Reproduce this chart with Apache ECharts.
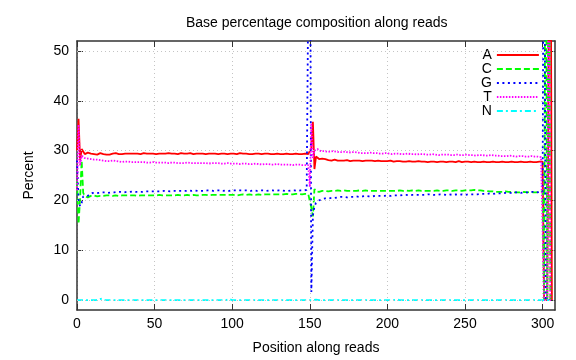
<!DOCTYPE html>
<html>
<head>
<meta charset="utf-8">
<script src="https://cdn.jsdelivr.net/npm/echarts@6/dist/echarts.min.js"></script>
<style>html,body{margin:0;padding:0;background:#fff}#c{width:576px;height:360px}</style>
</head>
<body>
<div id="c"></div>
<script>
var titleText = "Base percentage composition along reads";
var xName = "Position along reads";
var yName = "Percent";
var seriesNames = ["A", "C", "G", "T", "N"];
var xTicks = [0, 50, 100, 150, 200, 250, 300];
var yTicks = [0, 10, 20, 30, 40, 50];

var A = [
30.0,36.4,28.0,30.3,29.9,29.3,29.7,29.6,29.2,29.4,
29.5,29.3,29.4,29.2,29.3,29.5,29.4,29.3,29.4,29.2,
29.1,29.2,29.3,29.4,29.3,29.5,29.4,29.3,29.2,29.3,
29.4,29.4,29.5,29.4,29.3,29.4,29.5,29.4,29.3,29.4,
29.4,29.3,29.4,29.5,29.4,29.4,29.3,29.4,29.5,29.4,
29.4,29.3,29.4,29.4,29.5,29.4,29.3,29.4,29.4,29.5,
29.4,29.4,29.3,29.4,29.4,29.3,29.4,29.5,29.4,29.4,
29.3,29.4,29.4,29.5,29.4,29.3,29.4,29.4,29.3,29.4,
29.5,29.4,29.4,29.3,29.4,29.4,29.5,29.4,29.3,29.4,
29.4,29.3,29.4,29.4,29.5,29.4,29.4,29.3,29.4,29.4,
29.3,29.4,29.4,29.3,29.4,29.5,29.4,29.4,29.3,29.4,
29.4,29.3,29.4,29.3,29.4,29.4,29.3,29.4,29.4,29.3,
29.3,29.4,29.3,29.4,29.4,29.3,29.4,29.3,29.3,29.4,
29.3,29.3,29.4,29.3,29.3,29.4,29.3,29.3,29.4,29.3,
29.3,29.4,29.3,29.3,29.4,29.3,29.3,29.4,29.3,29.3,
29.2,30.5,35.8,26.3,28.8,28.9,28.3,28.6,28.4,28.2,
28.3,28.2,28.1,28.2,28.0,28.1,28.2,28.1,28.0,28.1,
28.0,28.1,28.0,28.0,28.1,28.0,27.9,28.0,28.0,28.1,
28.0,27.9,28.0,28.0,27.9,28.0,28.0,27.9,28.0,27.9,
28.0,28.0,27.9,27.9,28.0,27.9,27.9,28.0,27.9,27.9,
27.9,27.9,28.0,27.9,27.8,27.9,27.9,27.8,27.9,27.9,
27.8,27.9,27.8,27.9,27.9,27.8,27.8,27.9,27.8,27.8,
27.9,27.8,27.8,27.9,27.8,27.8,27.7,27.8,27.8,27.9,
27.8,27.8,27.7,27.8,27.8,27.7,27.8,27.8,27.7,27.8,
27.8,27.7,27.8,27.8,27.7,27.8,27.9,27.8,27.7,27.8,
27.8,27.7,27.8,27.8,27.7,27.7,27.8,27.8,27.7,27.8,
27.7,27.7,27.8,27.7,27.7,27.8,27.7,27.7,27.8,27.7,
27.7,27.8,27.7,27.7,27.8,27.7,27.7,27.8,27.7,27.7,
27.8,27.7,27.7,27.8,27.7,27.7,27.8,27.7,27.7,27.8,
27.7,27.7,27.8,27.7,27.7,27.8,27.7,27.7,27.8,27.7,
27.8,0,0,0,0,100,0
];
var C = [
24.0,15.3,20.5,28.0,21.5,20.9,20.7,20.6,20.8,20.9,
21.0,21.0,20.9,20.8,20.8,20.9,21.0,20.9,21.0,21.0,
20.9,21.0,21.0,20.9,21.0,21.0,21.0,20.9,21.0,21.0,
21.0,21.0,21.0,21.0,20.9,21.0,21.0,21.0,21.0,20.9,
21.0,21.0,21.0,21.0,21.0,21.0,20.9,21.0,21.0,21.0,
21.0,21.0,21.0,21.1,21.0,21.0,21.0,21.0,21.1,21.0,
21.0,21.0,21.1,21.0,21.0,21.1,21.0,21.0,21.1,21.0,
21.0,21.1,21.0,21.0,21.1,21.1,21.0,21.0,21.1,21.0,
21.1,21.1,21.0,21.1,21.1,21.0,21.1,21.1,21.0,21.1,
21.1,21.1,21.0,21.1,21.1,21.1,21.0,21.1,21.1,21.1,
21.1,21.1,21.1,21.0,21.1,21.1,21.1,21.2,21.1,21.1,
21.1,21.2,21.1,21.1,21.2,21.1,21.1,21.2,21.2,21.1,
21.2,21.2,21.1,21.2,21.2,21.2,21.1,21.2,21.2,21.2,
21.2,21.2,21.3,21.2,21.2,21.3,21.2,21.2,21.3,21.2,
21.3,21.3,21.2,21.3,21.3,21.2,21.3,21.3,21.3,21.3,
21.2,18.5,16.8,22.3,21.8,22.0,21.7,21.8,21.9,21.8,
21.9,21.9,21.8,21.9,21.9,21.8,21.9,21.9,22.0,21.9,
21.9,21.9,22.0,21.9,21.9,22.0,21.9,21.9,21.9,22.0,
21.9,21.9,22.0,21.9,21.9,21.9,22.0,21.9,21.9,22.0,
21.9,21.9,21.9,22.0,21.9,21.9,21.9,22.0,21.9,21.9,
21.9,22.0,21.9,21.9,21.9,22.0,21.9,21.9,22.0,21.9,
21.9,21.9,22.0,21.9,21.9,21.9,22.0,21.9,21.9,21.9,
22.0,21.9,21.9,22.0,21.9,21.9,21.9,22.0,21.9,22.0,
21.9,21.9,22.0,21.9,21.9,22.0,21.9,21.9,22.0,21.9,
22.0,22.0,21.9,22.0,22.0,21.9,22.0,22.0,21.9,22.0,
22.0,22.1,22.0,22.1,22.0,22.0,22.1,22.0,22.0,21.9,
22.0,21.9,21.9,21.8,21.9,21.8,21.8,21.9,21.8,21.8,
21.7,21.8,21.7,21.8,21.7,21.7,21.8,21.7,21.7,21.6,
21.7,21.7,21.6,21.7,21.6,21.7,21.6,21.6,21.7,21.6,
21.6,21.6,21.7,21.6,21.6,21.6,21.6,21.7,21.7,21.7,
21.8,0,100,0,100,0,0
];
var G = [
28.0,20.0,18.8,19.5,20.8,21.1,20.9,20.7,21.0,21.3,
21.5,21.5,21.4,21.6,21.5,21.5,21.6,21.5,21.6,21.6,
21.5,21.6,21.6,21.7,21.6,21.6,21.7,21.6,21.7,21.7,
21.6,21.7,21.7,21.6,21.7,21.7,21.8,21.7,21.7,21.8,
21.7,21.8,21.7,21.8,21.8,21.7,21.8,21.8,21.8,21.7,
21.8,21.8,21.8,21.9,21.8,21.8,21.9,21.8,21.9,21.9,
21.8,21.9,21.9,21.8,21.9,21.9,21.9,21.8,21.9,21.9,
21.9,21.9,22.0,21.9,21.9,21.9,22.0,21.9,21.9,22.0,
21.9,22.0,21.9,21.9,22.0,21.9,22.0,22.0,21.9,22.0,
22.0,21.9,22.0,22.0,21.9,22.0,22.0,22.0,21.9,22.0,
22.0,22.0,22.0,21.9,22.0,22.0,22.0,21.9,22.0,22.0,
22.0,22.0,21.9,22.0,22.0,22.0,21.9,22.0,22.0,21.9,
22.0,22.0,21.9,22.0,22.0,21.9,22.0,22.0,21.9,22.0,
22.0,21.9,22.0,22.0,21.9,22.0,21.9,22.0,22.0,21.9,
22.0,22.0,21.9,22.0,22.0,22.1,22.0,22.0,22.1,22.1,
100,1.6,17.0,18.8,19.5,19.8,20.0,20.2,20.3,20.3,
20.4,20.5,20.4,20.5,20.5,20.6,20.5,20.6,20.6,20.6,
20.7,20.6,20.7,20.7,20.6,20.7,20.7,20.8,20.7,20.7,
20.8,20.8,20.7,20.8,20.8,20.8,20.9,20.8,20.8,20.9,
20.8,20.9,20.9,20.8,20.9,20.9,20.9,21.0,20.9,20.9,
21.0,21.0,20.9,21.0,21.0,21.0,21.0,21.1,21.0,21.0,
21.1,21.0,21.1,21.1,21.0,21.1,21.1,21.1,21.1,21.0,
21.1,21.1,21.1,21.2,21.1,21.1,21.2,21.1,21.2,21.1,
21.1,21.2,21.1,21.2,21.2,21.1,21.2,21.2,21.1,21.2,
21.2,21.2,21.1,21.2,21.2,21.2,21.1,21.2,21.2,21.2,
21.1,21.1,21.2,21.1,21.2,21.2,21.2,21.3,21.2,21.2,
21.3,21.3,21.3,21.4,21.3,21.3,21.4,21.4,21.3,21.4,
21.4,21.4,21.4,21.5,21.4,21.5,21.5,21.4,21.5,21.5,
21.5,21.5,21.6,21.5,21.6,21.6,21.5,21.6,21.6,21.6,
21.6,21.6,21.7,21.6,21.7,21.7,21.6,21.7,21.7,21.7,
21.7,100,0,0,0,0,0
];
var T = [
22.0,35.2,27.0,29.0,28.6,28.5,28.3,28.4,28.2,28.3,
28.2,28.2,28.1,28.2,28.0,28.1,28.1,28.0,28.0,27.9,
28.0,27.9,27.9,28.0,27.8,27.9,27.8,27.8,27.9,27.7,
27.8,27.8,27.7,27.8,27.7,27.7,27.8,27.7,27.6,27.7,
27.7,27.7,27.6,27.7,27.7,27.6,27.7,27.6,27.6,27.7,
27.6,27.6,27.7,27.6,27.6,27.6,27.7,27.6,27.6,27.5,
27.6,27.6,27.5,27.6,27.6,27.5,27.6,27.5,27.6,27.5,
27.5,27.6,27.5,27.5,27.6,27.5,27.5,27.5,27.6,27.5,
27.5,27.5,27.4,27.5,27.5,27.4,27.5,27.5,27.4,27.5,
27.4,27.5,27.4,27.4,27.5,27.4,27.4,27.5,27.4,27.4,
27.4,27.4,27.3,27.4,27.4,27.3,27.4,27.4,27.3,27.4,
27.3,27.3,27.4,27.3,27.3,27.4,27.3,27.3,27.3,27.2,
27.3,27.3,27.2,27.3,27.3,27.2,27.3,27.2,27.2,27.3,
27.2,27.2,27.3,27.2,27.2,27.2,27.3,27.2,27.2,27.1,
27.2,27.2,27.1,27.2,27.2,27.1,27.2,27.1,27.2,27.1,
22.7,35.5,28.5,30.0,29.8,30.3,30.0,29.9,30.1,29.9,
29.9,29.8,29.9,29.8,29.8,29.9,29.7,29.8,29.8,29.7,
29.8,29.7,29.7,29.8,29.7,29.6,29.7,29.7,29.6,29.7,
29.6,29.6,29.6,29.5,29.6,29.5,29.6,29.5,29.5,29.6,
29.5,29.5,29.4,29.5,29.5,29.4,29.5,29.4,29.4,29.5,
29.4,29.4,29.4,29.3,29.4,29.4,29.3,29.4,29.3,29.3,
29.4,29.3,29.3,29.4,29.3,29.3,29.2,29.3,29.3,29.2,
29.3,29.3,29.2,29.3,29.2,29.2,29.3,29.2,29.2,29.3,
29.2,29.2,29.2,29.1,29.2,29.2,29.1,29.2,29.1,29.2,
29.2,29.1,29.2,29.1,29.1,29.2,29.1,29.1,29.2,29.1,
29.1,29.2,29.1,29.1,29.0,29.1,29.1,29.0,29.1,29.1,
29.0,29.1,29.0,29.0,29.1,29.0,29.0,29.1,29.0,29.0,
28.9,29.0,29.0,28.9,29.0,28.9,29.0,28.9,28.9,29.0,
28.9,28.9,28.9,28.8,28.9,28.9,28.8,28.9,28.8,28.8,
28.9,28.8,28.8,28.9,28.8,28.8,28.7,28.8,28.8,28.7,
28.7,0,0,0,100,0,0
];
var N = [
0.0,0.0,0.0,0.0,0.0,0.0,0.0,0.0,0.0,0.0,
0.0,0.0,0.0,0.0,0.1,0.4,0.3,0.1,0.0,0.0,
0.0,0.0,0.0,0.0,0.0,0.0,0.0,0.0,0.0,0.0,
0.0,0.0,0.0,0.0,0.0,0.0,0.0,0.0,0.0,0.0,
0.0,0.0,0.0,0.0,0.0,0.0,0.0,0.0,0.0,0.0,
0.0,0.0,0.0,0.0,0.0,0.0,0.0,0.0,0.0,0.0,
0.0,0.0,0.0,0.0,0.0,0.0,0.0,0.0,0.0,0.0,
0.0,0.0,0.0,0.0,0.0,0.0,0.0,0.0,0.0,0.0,
0.0,0.0,0.0,0.0,0.0,0.0,0.0,0.0,0.0,0.0,
0.0,0.0,0.0,0.0,0.0,0.0,0.0,0.1,0.2,0.1,
0.0,0.0,0.0,0.0,0.0,0.0,0.0,0.0,0.0,0.0,
0.0,0.0,0.0,0.0,0.0,0.0,0.0,0.0,0.0,0.0,
0.0,0.0,0.0,0.0,0.0,0.0,0.0,0.0,0.0,0.0,
0.0,0.0,0.0,0.0,0.0,0.0,0.0,0.0,0.0,0.0,
0.0,0.0,0.0,0.0,0.0,0.0,0.0,0.0,0.0,0.0,
0.0,0.0,0.0,0.0,0.1,0.0,0.0,0.0,0.0,0.0,
0.0,0.0,0.0,0.0,0.0,0.0,0.0,0.0,0.0,0.0,
0.0,0.0,0.0,0.0,0.0,0.0,0.0,0.0,0.0,0.0,
0.0,0.0,0.0,0.0,0.0,0.0,0.0,0.0,0.0,0.0,
0.0,0.0,0.0,0.0,0.0,0.0,0.0,0.0,0.0,0.0,
0.0,0.0,0.0,0.0,0.0,0.0,0.1,0.0,0.0,0.0,
0.0,0.0,0.0,0.0,0.0,0.0,0.0,0.0,0.0,0.0,
0.0,0.0,0.0,0.0,0.0,0.0,0.0,0.0,0.0,0.0,
0.0,0.0,0.0,0.0,0.0,0.0,0.0,0.0,0.0,0.0,
0.0,0.0,0.0,0.0,0.0,0.0,0.0,0.0,0.0,0.0,
0.0,0.0,0.0,0.0,0.0,0.0,0.0,0.0,0.0,0.0,
0.0,0.0,0.0,0.0,0.0,0.0,0.0,0.0,0.0,0.0,
0.0,0.0,0.0,0.0,0.0,0.0,0.0,0.0,0.0,0.0,
0.0,0.0,0.0,0.0,0.0,0.0,0.0,0.0,0.0,0.0,
0.0,0.0,0.0,0.0,0.0,0.0,0.0,0.0,0.0,0.0,
0.0,0.0,0.0,0.0,0.0,0.0,0.0
];

var seriesValues = [A, C, G, T, N];
var colors = ["#ff0000", "#00ff00", "#0000ff", "#ff00ff", "#00ffff"];
var dashes = ["solid", [6, 3], [2, 3.5], [1.5, 1.5], [6, 3, 2, 3]];

function pairs(arr) {
  var out = [];
  for (var i = 0; i < arr.length; i++) out.push([i, arr[i]]);
  return out;
}

var chart = echarts.init(document.getElementById('c'), null, {renderer: 'canvas'});
var FONT = 'Liberation Sans';
var frameColor = '#333';
var gridStyle = {color: '#c4c4c4', type: [1, 3], width: 1};

function xAx(pos, main) {
  return {
    type: 'value', min: 0, max: 308, interval: 50, position: pos,
    name: main ? xName : '', nameLocation: 'middle', nameGap: 31,
    nameTextStyle: {fontFamily: FONT, fontSize: 14, color: '#000'},
    axisLine: {show: true, onZero: false, lineStyle: {color: frameColor, width: 1.5}},
    axisTick: {show: true, inside: true, length: 6, customValues: xTicks, lineStyle: {color: frameColor, width: 1}},
    axisLabel: {show: main, margin: 7, fontFamily: FONT, fontSize: 14, color: '#000', customValues: xTicks},
    splitLine: main ? {show: true, lineStyle: gridStyle} : {show: false}
  };
}
function yAx(pos, main) {
  return {
    type: 'value', min: -2, max: 52, position: pos,
    name: main ? yName : '', nameLocation: 'middle', nameGap: 41, nameRotate: 90,
    nameTextStyle: {fontFamily: FONT, fontSize: 14, color: '#000'},
    axisLine: {show: true, onZero: false, lineStyle: {color: frameColor, width: 1.5}},
    axisTick: {show: true, inside: true, length: 6, customValues: yTicks, lineStyle: {color: frameColor, width: 1}},
    axisLabel: {show: main, margin: 8, fontFamily: FONT, fontSize: 14, color: '#000', customValues: yTicks},
    splitLine: {show: false}
  };
}

// horizontal grid lines at the y tick values, placed through the y scale
var gridSeries = {
  name: '_grid', type: 'line', data: [], xAxisIndex: 0, yAxisIndex: 0,
  silent: true, animation: false,
  markLine: {
    silent: true, animation: false, symbol: ['none', 'none'],
    label: {show: false}, emphasis: {disabled: true},
    lineStyle: gridStyle,
    data: yTicks.map(function (v) { return {yAxis: v}; })
  }
};

var series = [gridSeries].concat(seriesNames.map(function (nm, k) {
  return {
    name: nm, type: 'line', xAxisIndex: 0, yAxisIndex: 0,
    data: pairs(seriesValues[k]), showSymbol: false, symbol: 'none',
    clip: true, animation: false,
    lineStyle: {color: colors[k], width: 1.8, type: dashes[k]},
    itemStyle: {color: colors[k]}
  };
}));

chart.setOption({
  animation: false,
  backgroundColor: '#fff',
  title: {text: titleText, left: 186, top: 16, padding: 0,
    textStyle: {fontFamily: FONT, fontSize: 14, fontWeight: 'normal', color: '#000'}},
  legend: {
    data: seriesNames, orient: 'vertical', left: 481, top: 48, align: 'right',
    itemWidth: 42, itemHeight: 14, itemGap: 0, padding: 0,
    itemStyle: {opacity: 0},
    textStyle: {fontFamily: FONT, fontSize: 14, color: '#000'}
  },
  grid: {left: 77, top: 41, width: 478, height: 274, containLabel: false},
  xAxis: [xAx('bottom', true), xAx('top', false)],
  yAxis: [yAx('left', true), yAx('right', false)],
  series: series
});
</script>
</body>
</html>
